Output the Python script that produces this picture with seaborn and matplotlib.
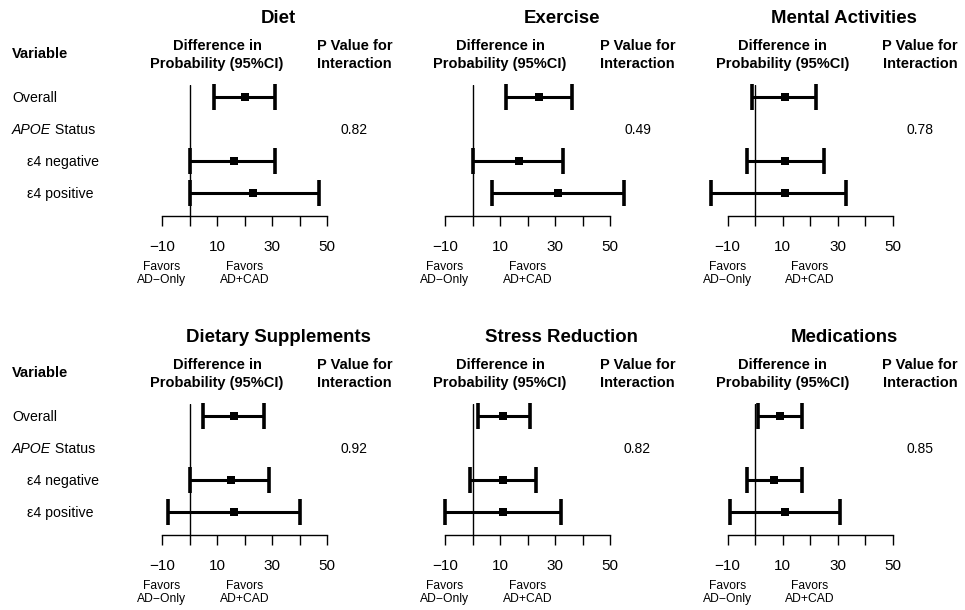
import numpy as np
import pandas as pd
import seaborn as sns
from matplotlib import pyplot as plt

# panel titles and p values for interaction
panels = ["Diet", "Exercise", "Mental Activities",
          "Dietary Supplements", "Stress Reduction", "Medications"]
p_values = ["0.82", "0.49", "0.78", "0.92", "0.82", "0.85"]

# estimates for Overall, e4 negative, e4 positive (difference in probability, %)
est = [[20, 16, 23], [24, 17, 31], [11, 11, 11],
       [16, 15, 16], [11, 11, 11], [9, 7, 11]]
lo = [[9, 0, 0], [12, 0, 7], [-1, -3, -16],
      [5, 0, -8], [2, -1, -10], [1, -3, -9]]
hi = [[31, 31, 47], [36, 33, 55], [22, 25, 33],
      [27, 29, 40], [21, 23, 32], [17, 17, 31]]
rows = [1, 3, 4]  # row 2 is the "APOE Status" line
row_labels = ["Overall", "APOE Status", "\u03b54 negative", "\u03b54 positive"]
x_ticks = [-10, 0, 10, 20, 30, 40, 50]
x_ticklabels = ["\u221210", "", "10", "", "30", "", "50"]

sns.set_style("ticks")
plt.rcParams['font.family'] = ['Liberation Sans', 'DejaVu Sans']
plt.rcParams['text.color'] = 'black'
plt.rcParams['xtick.color'] = 'black'
plt.rcParams['xtick.labelcolor'] = 'black'

W, H = 965, 610
fig = plt.figure(figsize=(W / 100, H / 100), dpi=100)

col_left = [162, 445, 727.5]   # pixel of x=-10
ax_width = 165                 # pixels for -10..50
row_top = [85, 404]            # pixel top of plotting area
ax_height = 131


def rowy(px):
    # pixel (top-row reference) -> row units
    return 1 + (px - 97) / 32


for i, name in enumerate(panels):
    r, c = divmod(i, 3)
    left = col_left[c] / W
    bottom = 1 - (row_top[r] + ax_height) / H
    ax = fig.add_axes([left, bottom, ax_width / W, ax_height / H])

    df = pd.DataFrame({"row": rows, "est": est[i], "lo": lo[i], "hi": hi[i]})

    ax.axvline(0, color="black", lw=1, zorder=1)
    ax.hlines(df["row"], df["lo"], df["hi"], color="black", lw=2.2, clip_on=False, zorder=2)
    ax.vlines(df["lo"], df["row"] - 0.4, df["row"] + 0.4, color="black", lw=2.6, clip_on=False, zorder=2)
    ax.vlines(df["hi"], df["row"] - 0.4, df["row"] + 0.4, color="black", lw=2.6, clip_on=False, zorder=2)
    sns.scatterplot(data=df, x="est", y="row", marker="s", s=26, color="black",
                    linewidth=0, ax=ax, clip_on=False, zorder=3)

    ax.set_xlim(-10, 50)
    ax.set_ylim(rowy(216), rowy(85))
    ax.set_xlabel("")
    ax.set_ylabel("")
    ax.set_yticks([])
    ax.set_xticks(x_ticks)
    ax.set_xticklabels(x_ticklabels, fontsize=11)
    ax.tick_params(axis="x", bottom=True, direction="out", length=7, width=1, pad=10,
                   colors="black")
    for s in ["top", "left", "right"]:
        ax.spines[s].set_visible(False)
    ax.spines["bottom"].set_linewidth(1)
    ax.spines["bottom"].set_color("black")
    ax.patch.set_alpha(0)

    # title and column headers
    ax.text(32.5, rowy(23), name, ha="center", va="baseline",
            fontsize=13.4, fontweight="bold", clip_on=False)
    ax.text(10, rowy(50), "Difference in", ha="center", va="baseline",
            fontsize=10.5, fontweight="bold", clip_on=False)
    ax.text(10, rowy(68), "Probability (95%CI)", ha="center", va="baseline",
            fontsize=10.5, fontweight="bold", clip_on=False)
    ax.text(60, rowy(50), "P Value for", ha="center", va="baseline",
            fontsize=10.5, fontweight="bold", clip_on=False)
    ax.text(60, rowy(68), "Interaction", ha="center", va="baseline",
            fontsize=10.5, fontweight="bold", clip_on=False)
    ax.text(60, 2.17, p_values[i], ha="center", va="baseline",
            fontsize=10, clip_on=False)

    # favors labels under the axis
    ax.text(-10, rowy(270), "Favors", ha="center", va="baseline", fontsize=8.7, clip_on=False)
    ax.text(-10, rowy(283), "AD\u2212Only", ha="center", va="baseline", fontsize=8.7, clip_on=False)
    ax.text(20, rowy(270), "Favors", ha="center", va="baseline", fontsize=8.7, clip_on=False)
    ax.text(20, rowy(283), "AD+CAD", ha="center", va="baseline", fontsize=8.7, clip_on=False)

    # variable column only on the left panels
    if c == 0:
        x0 = (12 - 189.5) / 2.75
        x1 = (27 - 189.5) / 2.75
        ax.text(x0, rowy(58), "Variable", ha="left", va="baseline",
                fontsize=10.5, fontweight="bold", clip_on=False)
        ax.text(x0, 1.16, row_labels[0], ha="left", va="baseline", fontsize=10.2, clip_on=False)
        apoe = ax.text(x0, 2.16, "APOE", ha="left", va="baseline", fontsize=10.2,
                       style="italic", clip_on=False)
        ax.annotate(" Status", xy=(1, 0), xycoords=apoe, ha="left", va="bottom",
                    fontsize=10.2, annotation_clip=False)
        ax.text(x1, 3.16, row_labels[2], ha="left", va="baseline", fontsize=10.2, clip_on=False)
        ax.text(x1, 4.16, row_labels[3], ha="left", va="baseline", fontsize=10.2, clip_on=False)

fig.savefig("out.png", dpi=100, facecolor="white")
